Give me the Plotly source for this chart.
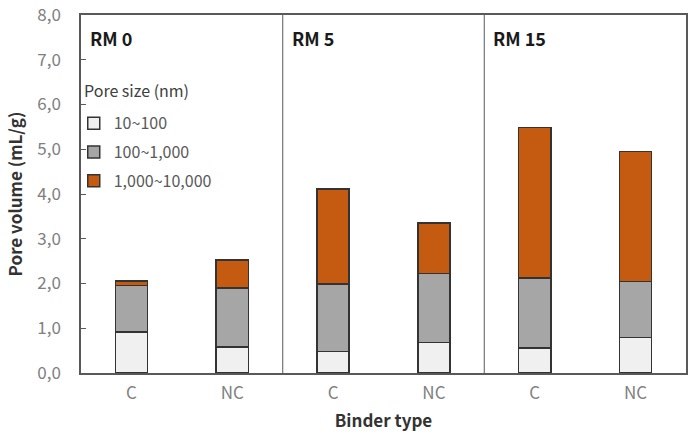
import plotly.graph_objects as go

categories = ["C", "NC", "C", "NC", "C", "NC"]
groups = ["RM 0", "RM 5", "RM 15"]
series_names = ["10~100", "100~1,000", "1,000~10,000"]
s_10_100 = [0.92, 0.58, 0.48, 0.68, 0.56, 0.79]
s_100_1000 = [1.03, 1.32, 1.51, 1.54, 1.56, 1.25]
s_1000_10000 = [0.11, 0.62, 2.12, 1.13, 3.37, 2.91]
y_tickvals = [0, 1, 2, 3, 4, 5, 6, 7, 8]
y_ticktext = ["0,0", "1,0", "2,0", "3,0", "4,0", "5,0", "6,0", "7,0", "8,0"]
legend_title = "Pore size (nm)"
colors = ["#f0f0f0", "#a6a6a6", "#c55a11"]

FONT = "Noto Sans CJK KR"
x_idx = list(range(len(categories)))

fig = go.Figure()
for name, vals, col in zip(series_names, [s_10_100, s_100_1000, s_1000_10000], colors):
    fig.add_trace(go.Bar(
        x=x_idx, y=vals, name=name, legendgroup=name,
        marker=dict(color=col, line=dict(color="#333333", width=1.5)),
        width=0.32,
    ))

# group dividers
for xd in [1.5, 3.5]:
    fig.add_shape(type="line", xref="x", yref="paper", x0=xd, x1=xd, y0=0, y1=1,
                  line=dict(color="#7f7f7f", width=1.3))

# group labels
for i, g in enumerate(groups):
    fig.add_annotation(x=i * 2 - 0.5, y=7.49, xref="x", yref="y", text="<b>" + g + "</b>",
                       showarrow=False, xanchor="left", yanchor="middle", xshift=7,
                       font=dict(family=FONT, size=18, color="#1a1a1a"))

# legend heading
fig.add_annotation(x=0, y=0.79, xref="paper", yref="paper", text=legend_title,
                   showarrow=False, xanchor="left", yanchor="middle", xshift=1,
                   font=dict(family=FONT, size=16, color="#404040"))

fig.update_layout(
    barmode="stack",
    width=694, height=432,
    margin=dict(l=81, r=8, t=15, b=59, autoexpand=False),
    plot_bgcolor="white", paper_bgcolor="white",
    showlegend=True,
    legend=dict(
        x=-0.012, y=0.745, xanchor="left", yanchor="top",
        traceorder="grouped", tracegroupgap=5,
        font=dict(family=FONT, size=16, color="#595959"),
        bgcolor="rgba(0,0,0,0)", itemwidth=30,
    ),
    font=dict(family=FONT),
    bargap=0.68,
)
fig.update_xaxes(
    range=[-0.5, 5.5], tickvals=x_idx, ticktext=categories,
    showline=True, linecolor="#595959", linewidth=1.5, mirror=True,
    ticks="", tickfont=dict(family=FONT, size=17, color="#808080"),
    ticklabelstandoff=4, automargin=False, ticklabeloverflow="allow",
    title=dict(text="<b>Binder type</b>", font=dict(family=FONT, size=17, color="#333333"), standoff=28),
    showgrid=False, zeroline=False,
)
fig.update_yaxes(
    range=[0, 8], tickvals=y_tickvals, ticktext=y_ticktext,
    showline=True, linecolor="#595959", linewidth=1.5, mirror=True,
    ticks="inside", ticklen=5, tickcolor="#595959",
    tickfont=dict(family=FONT, size=17, color="#808080"),
    ticklabelstandoff=15, automargin=False, ticklabeloverflow="allow",
    title=dict(text="<b>Pore volume (mL/g)</b>", font=dict(family=FONT, size=17, color="#333333"), standoff=10),
    showgrid=False, zeroline=False,
)

fig.write_html("out.html")
